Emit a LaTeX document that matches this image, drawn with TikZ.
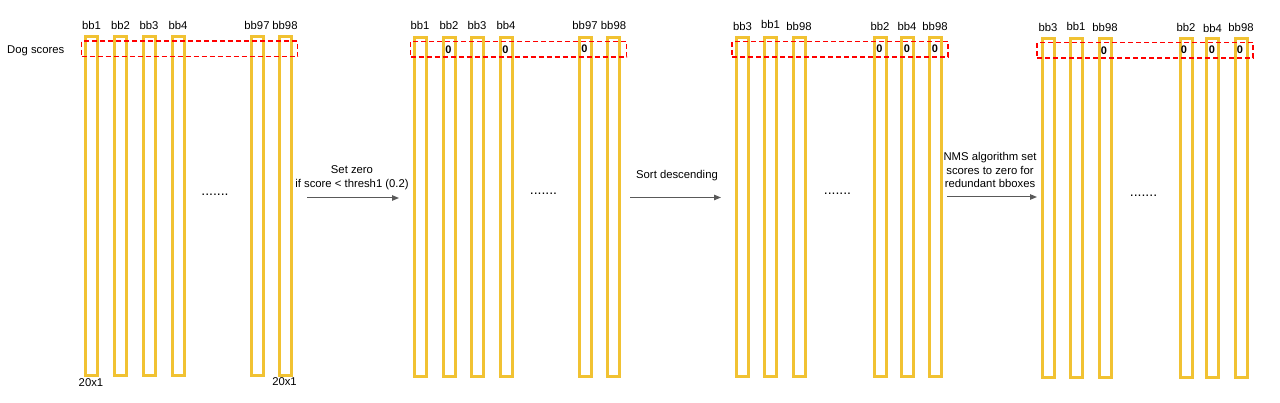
\documentclass[tikz,border=0pt]{standalone}
\usepackage{fontspec}
\setmainfont{Liberation Sans}
\usetikzlibrary{arrows.meta}
\definecolor{barc}{HTML}{F1C232}
\definecolor{arrc}{HTML}{595959}
\begin{document}
\begin{tikzpicture}[x=1pt,y=-1pt,
  bar/.style={draw=barc,line width=3pt,minimum width=12pt,minimum height=339pt,inner sep=0pt},
  redbox/.style={draw=red,line width=1.5pt,dash pattern=on 5pt off 3pt,minimum width=216pt,minimum height=15.5pt,inner sep=0pt},
  lab/.style={font=\fontsize{11.3}{13.5}\selectfont,inner sep=0pt},
  dots/.style={font=\fontsize{14}{14}\selectfont,inner sep=0pt,anchor=base},
  zero/.style={font=\fontsize{11}{13}\selectfont\bfseries,inner sep=0pt},
  txt/.style={font=\fontsize{11.3}{13.5}\selectfont,align=center,inner sep=0pt},
  arr/.style={draw=arrc,line width=1pt,-{Triangle[length=7pt,width=5.5pt]}}]
\useasboundingbox (0,0) rectangle (1280,403);
% group 1
\node[lab,anchor=west] (dog) at (7,51) {Dog scores};
\foreach \n/\x in {1/91.5,2/120.5,3/149,4/178,97/257,98/285}{
  \node[bar] (ga\n) at (\x,206) {};
  \node[lab] (la\n) at (\x,25.5) {bb\n};
}
\node[redbox] (ra) at (189.5,49) {};
\node[dots] (dotsa) at (215,196) {.......};
\node[lab] (sa) at (91,383) {20x1};
\node[lab] (sb) at (284.5,382) {20x1};
% group 2
\foreach \n/\x in {1/420,2/449,3/477,4/506,97/585,98/613.5}{
  \node[bar] (gb\n) at (\x,206.7) {};
  \node[lab] (lb\n) at (\x,25.5) {bb\n};
}
\node[redbox] (rb) at (518.5,49.3) {};
\node[zero] (zb2) at (448.5,49.5) {0};
\node[zero] (zb4) at (505.5,49.5) {0};
\node[zero] (zb97) at (584.5,48.5) {0};
\node[dots] (dotsb) at (543.5,195) {.......};
% group 3
\foreach \n/\x/\t/\y in {a/742.5/bb3/26,b/770.5/bb1/24.5,c/799/bb98/26,d/880/bb2/26,e/907/bb4/26,f/935/bb98/26}{
  \node[bar] (gc\n) at (\x,207) {};
  \node[lab] (lc\n) at (\x,\y) {\t};
}
\node[redbox] (rc) at (840,49.2) {};
\node[zero] (zcd) at (879.5,48.5) {0};
\node[zero] (zce) at (907,48.5) {0};
\node[zero] (zcf) at (935,48.5) {0};
\node[dots] (dotsc) at (837.5,195) {.......};
% group 4
\foreach \n/\x/\t/\y in {a/1048/bb3/27,b/1076/bb1/26,c/1105/bb98/27.5,d/1186/bb2/27,e/1212.5/bb4/28,f/1241/bb98/27}{
  \node[bar] (gd\n) at (\x,208) {};
  \node[lab] (ld\n) at (\x,\y) {\t};
}
\node[redbox] (rd) at (1145,50.5) {};
\node[zero] (zdc) at (1104,50.5) {0};
\node[zero] (zdd) at (1184,49.5) {0};
\node[zero] (zde) at (1212,49.5) {0};
\node[zero] (zdf) at (1240,49.5) {0};
\node[dots] (dotsd) at (1143.5,197) {.......};
% arrows
\coordinate (a1s) at (307,198); \coordinate (a1e) at (399,198);
\draw[arr] (a1s) -- (a1e);
\node[txt] (t1) at (352,177.5) {Set zero\\if score < thresh1 (0.2)};
\coordinate (a2s) at (630,197.5); \coordinate (a2e) at (721,197.5);
\draw[arr] (a2s) -- (a2e);
\node[txt] (t2) at (677,176) {Sort descending};
\coordinate (a3s) at (947,197); \coordinate (a3e) at (1037,197);
\draw[arr] (a3s) -- (a3e);
\node[txt] (t3) at (990,170) {NMS algorithm set\\scores to zero for\\redundant bboxes};
\end{tikzpicture}
\end{document}
